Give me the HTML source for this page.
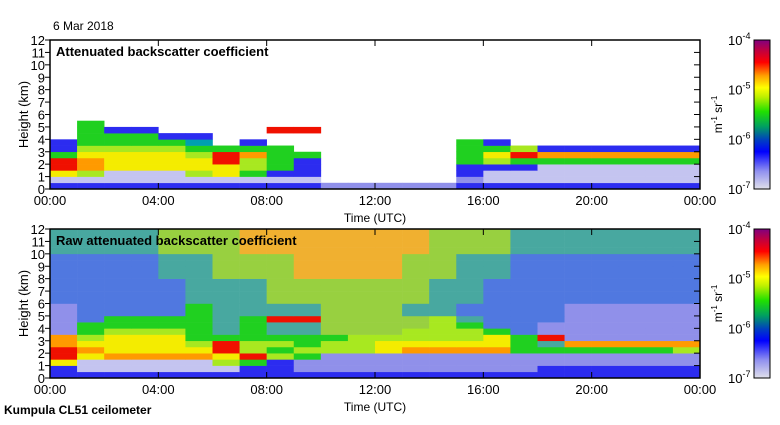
<!DOCTYPE html>
<html><head><meta charset="utf-8">
<style>
body{margin:0;background:#fff;width:780px;height:420px;overflow:hidden;font-family:"Liberation Sans",sans-serif;}
svg text{font-family:"Liberation Sans",sans-serif;}
</style></head>
<body>
<svg id="chart" width="780" height="420" xmlns="http://www.w3.org/2000/svg">
<defs>
<linearGradient id="cbar" x1="0" y1="1" x2="0" y2="0">
<stop offset="0" stop-color="#e0e0ea"/>
<stop offset="0.12" stop-color="#9090f0"/>
<stop offset="0.25" stop-color="#0000ff"/>
<stop offset="0.33" stop-color="#0040c0"/>
<stop offset="0.42" stop-color="#00a060"/>
<stop offset="0.52" stop-color="#20e000"/>
<stop offset="0.62" stop-color="#c0f000"/>
<stop offset="0.68" stop-color="#ffff00"/>
<stop offset="0.76" stop-color="#ffa000"/>
<stop offset="0.85" stop-color="#ff0000"/>
<stop offset="0.93" stop-color="#c00040"/>
<stop offset="1" stop-color="#800080"/>
</linearGradient>
</defs>
<g id="layer"></g>
</svg>
<script>
// Hour columns 0..23, height rows of 0.5 km listed from 0 km upward
const hours = [0,1,2,3,4,5,6,7,8,9,10,11,12,13,14,15,16,17,18,19,20,21,22,23];
const heightBinsKm = 0.5;
const xTickLabels = ["00:00","04:00","08:00","12:00","16:00","20:00","00:00"];
const yTickLabels = ["0","1","2","3","4","5","6","7","8","9","10","11","12"];
const cbarExponents = ["-7","-6","-5","-4"];
const levelColors = {".":"#ffffff","a":"#c4c4f0","b":"#2c2cf0","c":"#9090ea","e":"#5078e0","d":"#48a8a0","g":"#20d020","l":"#a8e820","y":"#f4ec00","o":"#ff9a00","r":"#f01000","n":"#98d040","p":"#f0b030","t":"#00a0b0"};
const attenuatedRows = [
"bbbbbbbbbbcccccbbbbbbbbb",
"aaaaaaaaaa.....caaaaaaaa",
"ylaaalygbb.....baaaaaaaa",
"royyyyylgb.....bbbaaaaaa",
"royyyyrlgb.....glgggggggg",
"gyyyylrogg.....gyroooooo",
"bllllgggg......gglbbbbbb",
"bggggt.b.......gb.......",
".gggbb..................",
".gbb....rr..............",
".g......................",
"........................",
"........................",
"........................","........................","........................",
"........................","........................","........................",
"........................","........................","........................",
"........................","........................"];
const rawRows = [
"bbbbbbbbbbbbbbbbbbbbbbbb",
"baaaaaabbcccccccccbbbbbb",
"yaaaaalgbccccccccccccccc",
"ryooooyrlgcccccccccccccc",
"royyyyrlglllyoooogggggglo",
"oyyyylrllgllyyyyygdooooo",
"olyyygggggglllllygrccccc",
"cglllgdgddnnnlllgecccccc",
"cgggggdgddnnnnlgeecccccc",
"ceggggdgrrnnnnldeeeccccc",
"ceeeegddddnnnddeeeeccccc",
"ceeeegddddnnnddeeeeccccc",
"eeeeedddnnnnnnddeeeeeeee",
"eeeeedddnnnnnnddeeeeeeee",
"eeeeedddnnnnnnddeeeeeeee",
"eeeeedddnnnnnnddeeeeeeee",
"eeeeddnnnppppnnddeeeeeee",
"eeeeddnnnppppnnddeeeeeee",
"eeeeddnnnppppnnddeeeeeee",
"eeeeddnnnppppnnddeeeeeee",
"ddddnnnpppppppnnnddddddd",
"ddddnnnpppppppnnnddddddd",
"ddddnnnpppppppnnnddddddd",
"ddddnnnpppppppnnnddddddd"];

const NS="http://www.w3.org/2000/svg";
const layer=document.getElementById('layer');
function mk(tag,attrs,parent){const e=document.createElementNS(NS,tag);for(const k in attrs)e.setAttribute(k,attrs[k]);(parent||layer).appendChild(e);return e;}
const X0=50,X1=700;
function xScale(h){return X0+(X1-X0)*h/24;}

function panel(top,bottom,rows,title,cbTop,cbBottom,pname){
  const g=mk('g',{});
  
  
  function yScale(km){return bottom-(bottom-top)*km/12;}
  const cells=mk('g',{},g);
  
  
  rows.forEach((row,ri)=>{
    hours.forEach((h,ci)=>{
      const c=row[ci]||'.';
      if(c==='.')return;
      const x=xScale(h), y=yScale((ri+1)*heightBinsKm);
      const r=mk('rect',{x:x,y:y,width:xScale(h+1)-x+0.3,height:yScale(ri*heightBinsKm)-y+0.3,fill:levelColors[c]},cells);
      
      
    });
  });
  const fr=mk('rect',{x:X0,y:top,width:X1-X0,height:bottom-top,fill:'none',stroke:'#000','stroke-width':1.5},g);
  
  
  yTickLabels.forEach((lab,i)=>{
    const y=yScale(i);
    mk('line',{x1:X0-5,x2:X0,y1:y,y2:y,stroke:'#000'},g);
    mk('line',{x1:X1-6,x2:X1,y1:y,y2:y,stroke:'#000'},g);
    const t=mk('text',{x:X0-5,y:y+5,'text-anchor':'end','font-size':13},g);
    t.textContent=lab;
    
    
  });
  xTickLabels.forEach((lab,i)=>{
    const x=xScale(i*4);
    mk('line',{x1:x,x2:x,y1:top,y2:top+6,stroke:'#000'},g);
    mk('line',{x1:x,x2:x,y1:bottom-6,y2:bottom,stroke:'#000'},g);
    const t=mk('text',{x:x,y:bottom+16,'text-anchor':'middle','font-size':13},g);
    t.textContent=lab;
    
    
  });
  const xt=mk('text',{x:375,y:bottom+33,'text-anchor':'middle','font-size':12},g);
  xt.textContent='Time (UTC)';
  
  
  const yt=mk('text',{x:28,y:(top+bottom)/2,'text-anchor':'middle','font-size':13,transform:'rotate(-90 28 '+((top+bottom)/2)+')'},g);
  yt.textContent='Height (km)';
  
  
  const tt=mk('text',{x:56,y:top+16,'font-size':13,'font-weight':'bold'},g);
  tt.textContent=title;
  
  
  const cb=mk('rect',{x:754,y:cbTop,width:16,height:cbBottom-cbTop,fill:'url(#cbar)',stroke:'#000','stroke-width':1},g);
  
  
  cbarExponents.forEach((ex,i)=>{
    const y=cbBottom-(cbBottom-cbTop)*i/3;
    const t=mk('text',{x:728,y:y+5,'font-size':13},g);
    
    
    t.textContent='10';
    const s=mk('tspan',{dy:-6,'font-size':9},t);s.textContent=ex;
  });
  const cy=(cbTop+cbBottom)/2;
  const ul=mk('text',{x:722,y:cy,'text-anchor':'middle','font-size':12,transform:'rotate(-90 722 '+cy+')'},g);
  
  
  ul.textContent='m';
  let s1=mk('tspan',{dy:-5,'font-size':8},ul);s1.textContent='-1';
  let s2=mk('tspan',{dy:5},ul);s2.textContent=' sr';
  let s3=mk('tspan',{dy:-5,'font-size':8},ul);s3.textContent='-1';
}
panel(40,189,attenuatedRows,'Attenuated backscatter coefficient',40,189,'attenuated-panel');
panel(229,378,rawRows,'Raw attenuated backscatter coefficient',229,378,'raw-panel');
const d=mk('text',{x:53,y:30,'font-size':12});
d.textContent='6 Mar 2018';


const f=mk('text',{x:4,y:414,'font-size':12,'font-weight':'bold'});
f.textContent='Kumpula CL51 ceilometer';


</script>
</body></html>
